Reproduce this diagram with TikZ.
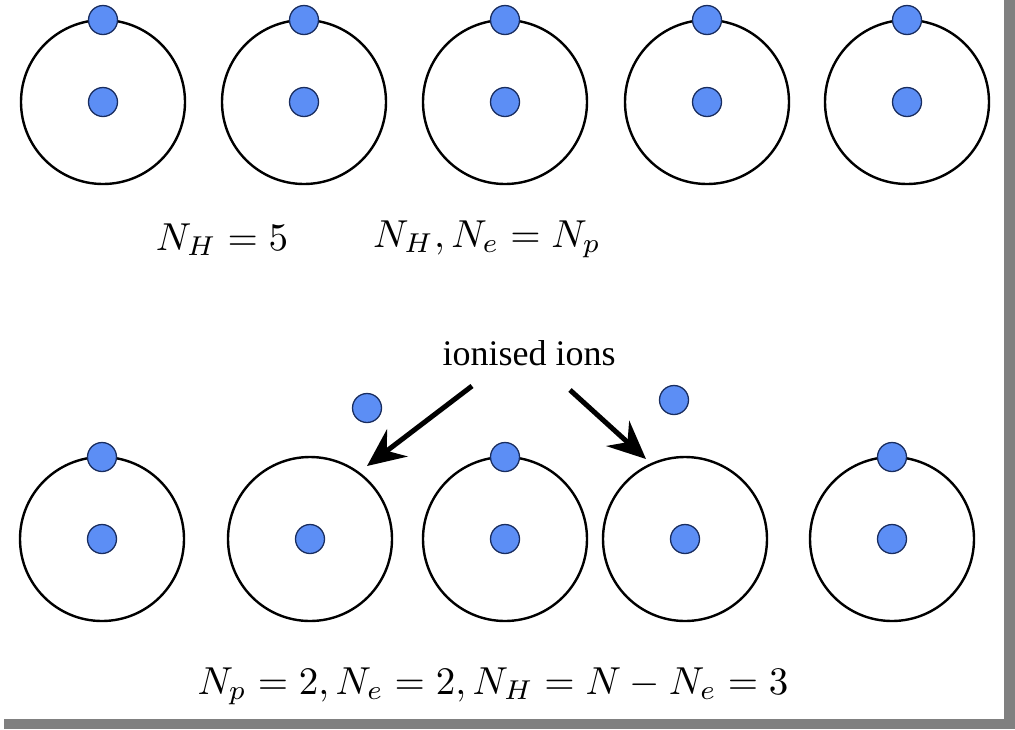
\documentclass[tikz,border=0pt]{standalone}
\usepackage{fontspec}
\newfontfamily\timesfont{Liberation Serif}
\usetikzlibrary{arrows.meta}
\definecolor{ballblue}{RGB}{92,142,245}
\definecolor{balledge}{RGB}{25,45,95}
\definecolor{shadowgray}{RGB}{128,128,128}
\tikzset{
  orbit/.style={circle,draw=black,line width=2.4pt,minimum size=164pt,inner sep=0pt},
  ball/.style={circle,fill=ballblue,draw=balledge,line width=1.3pt,minimum size=29pt,inner sep=0pt},
  mathlabel/.style={font=\fontsize{10}{12}\selectfont,inner sep=0pt,anchor=base,scale=3.9,transform shape},
  toplabel/.style={font=\timesfont\fontsize{36}{42}\selectfont,inner sep=0pt,anchor=base},
  bigarrow/.style={line width=5pt,-{Stealth[length=38pt,width=34pt,inset=13pt]}}
}
\begin{document}
\begin{tikzpicture}[x=1pt,y=-1pt]
\useasboundingbox (0,0) rectangle (1015,729);
\fill[white] (0,0) rectangle (1015,729);
\fill[shadowgray] (1004,0) rectangle (1015,729);
\fill[shadowgray] (4,719) rectangle (1015,729);
% top row
\foreach \i/\x in {1/103,2/304,3/505,4/707,5/907}{
  \node[orbit] (to\i) at (\x,102) {};
  \node[ball] (tn\i) at (\x,102) {};
  \node[ball] (te\i) at (\x,20) {};
}
% bottom row
\foreach \i/\x in {1/102,2/310,3/505,4/685,5/892}{
  \node[orbit] (bo\i) at (\x,539) {};
  \node[ball] (bn\i) at (\x,539) {};
}
\node[ball] (be1) at (102,457) {};
\node[ball] (be3) at (505,457) {};
\node[ball] (be5) at (892,457) {};
% free electrons
\node[ball] (fe1) at (367,408) {};
\node[ball] (fe2) at (674,400) {};
% labels
\node[mathlabel] (l1) at (222,250) {$N_H=5$};
\node[mathlabel] (l2) at (487,247) {$N_H,N_e=N_p$};
\node[mathlabel] (l3) at (493,694) {$N_p=2,N_e=2,N_H=N-N_e=3$};
\node[toplabel] (ion) at (529,365) {ionised ions};
% arrows
\coordinate (a1s) at (472,386);
\coordinate (a1e) at (367,466);
\coordinate (a2s) at (570,390);
\coordinate (a2e) at (646,459);
\draw[bigarrow] (a1s) -- (a1e);
\draw[bigarrow] (a2s) -- (a2e);
\end{tikzpicture}
\end{document}
